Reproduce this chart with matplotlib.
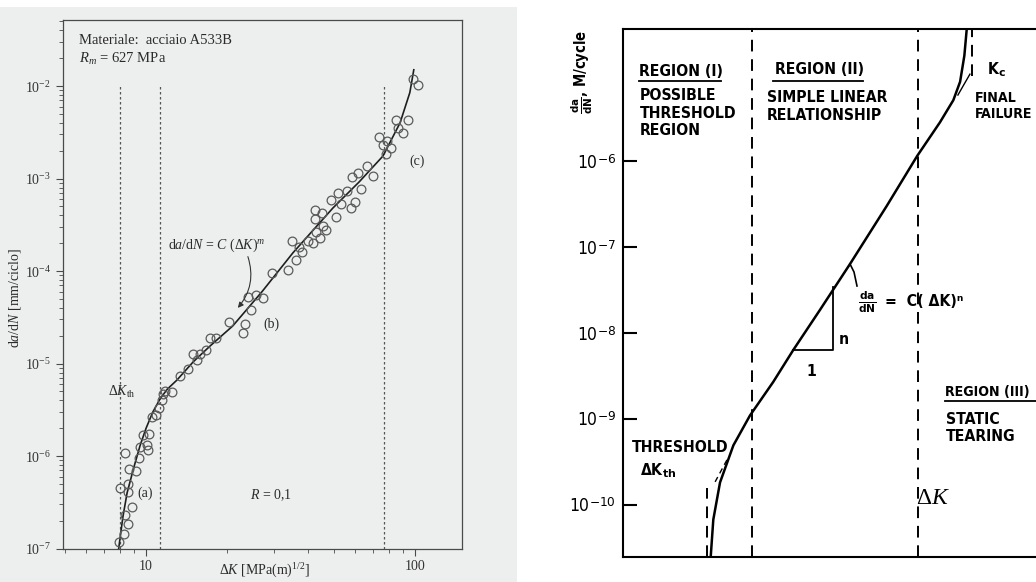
import matplotlib
matplotlib.use("Agg")
import matplotlib.pyplot as plt
from matplotlib.patches import Rectangle
from matplotlib.lines import Line2D
from matplotlib.font_manager import FontProperties
from matplotlib.ticker import FuncFormatter, NullFormatter, NullLocator

plt.rcParams['mathtext.fontset'] = 'custom'
plt.rcParams['mathtext.rm'] = 'Liberation Serif'
plt.rcParams['mathtext.it'] = 'Liberation Serif:italic'
plt.rcParams['mathtext.bf'] = 'DejaVu Sans:bold'
plt.rcParams['mathtext.sf'] = 'DejaVu Sans'
plt.rcParams['mathtext.fallback'] = 'stix'
plt.rcParams['font.family'] = ['Liberation Serif', 'DejaVu Serif']

W, H = 1036, 582

# ---------------- Left panel data (experimental, A533B) ----------------
dk_points = [7.96, 8.28, 8.35, 8.55, 8.85, 8.00, 8.59, 8.55, 8.38, 8.67, 9.18, 9.44,
             9.50, 9.77, 10.06, 10.15, 10.26, 10.50, 10.89, 11.2, 11.44, 11.76, 12.46, 11.54,
             13.38, 14.37, 14.92, 15.43, 15.88, 16.71, 17.29, 18.2, 20.4, 22.88, 23.34, 24.5,
             23.88, 25.64, 27.3, 29.3, 33.8, 34.8, 36.1, 37.15, 37.9,
             40.1, 41.9, 42.5, 42.5, 42.85, 44.4, 45.0, 45.4, 46.7, 48.7, 50.8, 51.9, 52.9,
             55.7, 57.8, 58.2, 59.8, 61.5, 62.8, 66.1, 69.6, 73.6, 75.8, 78.0, 78.5, 81.2,
             84.9, 86.7, 90.5, 94.4, 98.0, 102.8]
dadn_points = [1.19e-7, 1.45e-7, 2.32e-7, 1.83e-7, 2.82e-7, 4.48e-7, 4.07e-7, 5.04e-7, 1.08e-6,
               7.28e-7, 6.83e-7, 9.6e-7, 1.26e-6, 1.67e-6, 1.32e-6, 1.15e-6, 1.75e-6, 2.65e-6,
               2.77e-6, 3.33e-6, 4.0e-6, 5.04e-6, 4.96e-6, 4.73e-6,
               7.3e-6, 8.75e-6, 1.27e-5, 1.10e-5, 1.27e-5, 1.39e-5, 1.88e-5, 1.88e-5, 2.83e-5,
               2.16e-5, 2.65e-5, 3.83e-5, 5.28e-5, 5.53e-5, 5.14e-5, 9.6e-5, 1.03e-4, 2.1e-4,
               1.33e-4, 1.83e-4, 1.6e-4,
               2.14e-4, 2.01e-4, 4.61e-4, 3.66e-4, 2.65e-4, 2.27e-4, 4.2e-4, 3.05e-4, 2.77e-4,
               5.8e-4, 3.83e-4, 6.98e-4, 5.3e-4, 7.3e-4, 4.82e-4, 1.03e-3, 5.53e-4, 1.16e-3,
               7.65e-4, 1.36e-3, 1.06e-3, 2.83e-3, 2.31e-3, 1.84e-3, 2.58e-3, 2.14e-3,
               4.33e-3, 3.5e-3, 3.13e-3, 4.33e-3, 1.19e-2, 1.03e-2]
dk_fit = [7.91, 8.2, 8.5, 9.0, 9.5, 10.0, 10.6, 11.3, 12.0, 13.0, 15.0, 17.3, 21.0, 27.0,
          35.2, 49.5, 62.0, 76.0, 88.0, 95.7, 99.0]
dadn_fit = [1.0e-7, 2.2e-7, 4.0e-7, 7.5e-7, 1.3e-6, 2.0e-6, 3.0e-6, 4.2e-6, 5.3e-6, 6.6e-6,
            1.05e-5, 1.55e-5, 2.55e-5, 6.0e-5, 1.58e-4, 4.8e-4, 9.2e-4, 1.75e-3, 4.0e-3,
            8.5e-3, 1.5e-2]
dk_region_limits = [8.0, 11.3, 76.9]
left_xlim = (4.91, 149.6)
left_ylim = (1e-7, 5.13e-2)

# ---------------- Right panel data (schematic) ----------------
dk_schem = [2.52, 2.59, 2.78, 3.20, 3.81, 4.87, 6.02, 7.97, 10.94, 16.1, 22.2, 28.2, 32.5,
            34.9, 36.5, 37.4]
dadn_schem = [2.49e-11, 6.76e-11, 1.83e-10, 4.95e-10, 1.10e-9, 2.71e-9, 6.4e-9, 1.87e-8,
              6.41e-8, 3.03e-7, 1.16e-6, 2.85e-6, 5.18e-6, 8.49e-6, 1.71e-5, 3.42e-5]
dk_lines_full = [3.88, 22.5]
dk_th, dk_th_top = 2.42, 1.58e-10
dk_c, dk_c_bottom = 39.4, 9.9e-6
ext_low_dk, ext_low_dadn = [2.99, 2.64], [3.35e-10, 1.86e-10]
ext_high_dk, ext_high_dadn = [34.1, 38.7], [5.94e-6, 1.04e-5]
tri_dk = [6.02, 9.17, 9.17]
tri_dadn = [6.4e-9, 6.4e-9, 3.44e-8]
right_xlim = (1.0, 100.0)
right_ylim = (2.48e-11, 3.49e-5)
right_yticks = [1e-10, 1e-9, 1e-8, 1e-7, 1e-6]
right_yticklabels = [r"10$^{\mathsf{-10}}$", r"10$^{\mathsf{-9}}$", r"10$^{\mathsf{-8}}$",
                     r"10$^{\mathsf{-7}}$", r"10$^{\mathsf{-6}}$"]


def fx(x):
    return x / W


def fy(y):
    return 1 - y / H


fig = plt.figure(figsize=(W / 100, H / 100), dpi=100)
fig.add_artist(Rectangle((0, 0), fx(517), fy(7), transform=fig.transFigure,
                         facecolor='#edefee', edgecolor='none', zorder=-10))

# ================= Left panel =================
ax = fig.add_axes([fx(63), fy(548.6), fx(462) - fx(63), fy(20.4) - fy(548.6)])
ax.set_facecolor('none')
ax.set_xscale('log')
ax.set_yscale('log')
ax.set_xlim(*left_xlim)
ax.set_ylim(*left_ylim)
for s in ax.spines.values():
    s.set_color('#4a4a4a')
    s.set_linewidth(0.9)
ax.tick_params(which='both', direction='out', colors='#4a4a4a', labelcolor='#333333',
               labelsize=10, top=False, right=False)
ax.tick_params(which='major', length=5)
ax.tick_params(which='minor', length=3)
ax.xaxis.set_major_formatter(FuncFormatter(lambda v, p: f"{int(round(v))}"))
ax.xaxis.set_minor_formatter(NullFormatter())
ax.yaxis.set_minor_formatter(NullFormatter())

ax.vlines(dk_region_limits, 1e-7, 1e-2, colors='#555555', linestyles=(0, (2, 2)), lw=0.9)
ax.plot(dk_fit, dadn_fit, color='#1e1e1e', lw=1.2)
ax.plot(dk_points, dadn_points, 'o', mfc='none', mec='#5a5a5a', ms=6.3, mew=0.9)

tcol = '#2a2a2a'
fig.text(fx(79), fy(40), "Materiale:  acciaio A533B", fontsize=10.5, color=tcol, va='center')
fig.text(fx(79), fy(59), r"$R_{m}$ = 627 MPa", fontsize=10.5, color=tcol, va='center')
fig.text(fx(168), fy(245), r"d$a$/d$N$ = $C$ (Δ$K$)$^{m}$", fontsize=10, color=tcol,
         va='center')
fig.text(fx(145), fy(493), "(a)", fontsize=10, color=tcol, ha='center', va='center')
fig.text(fx(271), fy(324), "(b)", fontsize=10, color=tcol, ha='center', va='center')
fig.text(fx(417), fy(161.5), "(c)", fontsize=10, color=tcol, ha='center', va='center')
fig.text(fx(271), fy(495.5), r"$R$ = 0,1", fontsize=10, color=tcol, ha='center', va='center')
fig.text(fx(122), fy(392), r"Δ$K_{\rm th}$", fontsize=10, color=tcol, ha='center', va='center')
ax.annotate("", xy=(fx(236), fy(310)), xycoords='figure fraction',
            xytext=(fx(247), fy(254)), textcoords='figure fraction',
            arrowprops=dict(arrowstyle='-|>', color='#333333', lw=0.8,
                            connectionstyle='arc3,rad=-0.3', mutation_scale=8))
fig.text(fx(15), fy(298), r"d$a$/d$N$ [mm/ciclo]", fontsize=10, color=tcol, rotation=90,
         ha='center', va='center')
fig.text(fx(265), fy(571), r"Δ$K$ [MPa(m)$^{1/2}$]", fontsize=10, color=tcol,
         ha='center', va='center')

# ================= Right panel =================
sf = FontProperties(family='DejaVu Sans', weight='bold', stretch='condensed', size=11.3)
sf_small = FontProperties(family='DejaVu Sans', weight='bold', stretch='condensed', size=10.2)
ax2 = fig.add_axes([fx(623), fy(557), fx(1060) - fx(623), fy(29) - fy(557)])
ax2.set_xscale('log')
ax2.set_yscale('log')
ax2.set_xlim(*right_xlim)
ax2.set_ylim(*right_ylim)
for s in ax2.spines.values():
    s.set_color('black')
    s.set_linewidth(1.5)
ax2.set_xticks([])
ax2.xaxis.set_minor_locator(NullLocator())
ax2.set_yticks(right_yticks)
ax2.set_yticklabels(right_yticklabels)
ax2.yaxis.set_minor_locator(NullLocator())
ax2.tick_params(axis='y', direction='in', length=10, width=1.5, pad=5)
for lab in ax2.get_yticklabels():
    lab.set_fontproperties(FontProperties(family='DejaVu Sans', stretch='condensed', size=12.5))

dash = (0, (6, 4))
ax2.vlines(dk_lines_full, right_ylim[0], right_ylim[1], colors='black', linestyles=dash, lw=1.4)
ax2.vlines([dk_th], right_ylim[0], dk_th_top, colors='black', linestyles=dash, lw=1.4)
ax2.vlines([dk_c], dk_c_bottom, right_ylim[1], colors='black', linestyles=dash, lw=1.4)
ax2.plot(dk_schem, dadn_schem, color='black', lw=1.8, solid_capstyle='round')
ax2.plot(ext_low_dk, ext_low_dadn, color='black', lw=1.0, linestyle=(0, (4, 3)))
ax2.plot(ext_high_dk, ext_high_dadn, color='black', lw=1.0)
ax2.plot(tri_dk, tri_dadn, color='black', lw=1.3)

fig.text(fx(582), fy(72), r"$\frac{\mathbf{da}}{\mathbf{dN}}$, M/cycle", fontsize=10.5,
         fontweight='bold', family='DejaVu Sans', stretch='condensed', rotation=90,
         ha='center', va='center')


def rtext(x, y, s, fp=sf, **kw):
    fig.text(fx(x), fy(y), s, fontproperties=fp, va='center', linespacing=1.17, **kw)


def uline(x0, x1, y):
    fig.add_artist(Line2D([fx(x0), fx(x1)], [fy(y), fy(y)], transform=fig.transFigure,
                          color='black', lw=1.3))


rtext(639, 71.5, "REGION (I)")
uline(639, 721, 81)
rtext(640, 113, "POSSIBLE\nTHRESHOLD\nREGION")
rtext(775, 70, "REGION (II)")
uline(773, 863, 81)
rtext(767, 106.5, "SIMPLE LINEAR\nRELATIONSHIP")
rtext(987, 70, r"K$_{\mathbf{c}}$")
rtext(975, 106, "FINAL\nFAILURE", fp=sf_small)
rtext(945, 391.6, "REGION (III)", fp=sf_small)
uline(945, 1036, 401)
rtext(946, 428, "STATIC\nTEARING")
rtext(632, 447, "THRESHOLD")
rtext(640, 471, r"ΔK$_{\mathbf{th}}$")
rtext(839, 339.6, "n")
rtext(806, 371, "1")
fig.text(fx(867), fy(302), r"$\frac{\mathbf{da}}{\mathbf{dN}}$", fontsize=11, ha='center',
         va='center')
rtext(885, 301, "=  C( ΔK)ⁿ")
fig.add_artist(Line2D([fx(850), fx(854), fx(857)], [fy(264), fy(272), fy(286)],
                      transform=fig.transFigure, color='black', lw=1.2))
fig.text(fx(916), fy(499), r"$\Delta K$", fontsize=17, va='center')

fig.savefig("out.png", dpi=100)
